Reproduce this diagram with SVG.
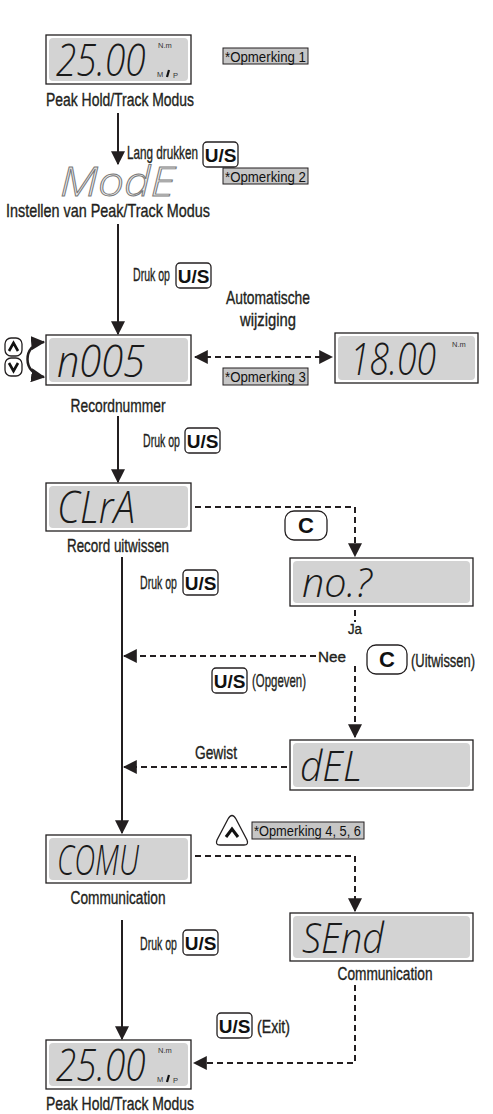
<svg xmlns="http://www.w3.org/2000/svg" width="493" height="1114" viewBox="0 0 493 1114">
<style>
.lbl{font-family:"Liberation Sans",Arial,sans-serif;font-size:18px;fill:#231f20;stroke:#231f20;stroke-width:0.35;}
.sm{font-size:15px;}
.mid{text-anchor:middle;}
.lcd{font-family:"Open Sans","Liberation Sans",sans-serif;font-weight:300;font-style:italic;font-size:44px;fill:#1a1a1a;}
.unit{font-family:"Liberation Sans",Arial,sans-serif;font-size:7.5px;fill:#333;}
.outer{fill:#fff;stroke:#231f20;stroke-width:1.3;}
.inner{fill:#d3d3d3;}
.key{fill:#fff;stroke:#231f20;stroke-width:1.3;}
.keyt{font-family:"Liberation Sans",Arial,sans-serif;font-weight:bold;font-size:19px;fill:#111;text-anchor:middle;}
.note{fill:#c6c6c6;stroke:#231f20;stroke-width:1;}
.notet{font-family:"Liberation Sans",Arial,sans-serif;font-size:15px;fill:#111;}
.solid{fill:none;stroke:#231f20;stroke-width:2;}
.dash{fill:none;stroke:#231f20;stroke-width:2;stroke-dasharray:6 4;}
.chev{fill:none;stroke:#111;stroke-width:2.6;stroke-linejoin:miter;}
</style>
<defs>
<marker id="ah" viewBox="0 0 12 12" refX="11" refY="6" markerWidth="14" markerHeight="14" markerUnits="userSpaceOnUse" orient="auto-start-reverse">
<path d="M0,0 L12,6 L0,12 z" fill="#231f20"/>
</marker>
</defs>

<g id="connectors">
<line class="solid" x1="118" y1="113" x2="118" y2="164" marker-end="url(#ah)"/>
<line class="solid" x1="118" y1="224" x2="118" y2="334" marker-end="url(#ah)"/>
<path class="solid" d="M44,342 C22,344 22,374 44,377" marker-start="url(#ah)" marker-end="url(#ah)" style="stroke-width:2.5"/>
<line class="dash" x1="195" y1="357" x2="332" y2="357" marker-start="url(#ah)" marker-end="url(#ah)"/>
<line class="solid" x1="118" y1="416" x2="118" y2="482" marker-end="url(#ah)"/>
<path class="dash" d="M195,507 H355 V556" marker-end="url(#ah)"/>
<line class="solid" x1="122" y1="557" x2="122" y2="833" marker-end="url(#ah)"/>
<line class="dash" x1="355" y1="610" x2="355" y2="622"/>
<line class="dash" x1="355" y1="666" x2="355" y2="737" marker-end="url(#ah)"/>
<line class="dash" x1="316" y1="656" x2="124" y2="656" marker-end="url(#ah)"/>
<line class="dash" x1="287" y1="767" x2="124" y2="767" marker-end="url(#ah)"/>
<path class="dash" d="M195,856 H355 V911" marker-end="url(#ah)"/>
<line class="solid" x1="122" y1="920" x2="122" y2="1039" marker-end="url(#ah)"/>
<path class="dash" d="M355,985 V1063 H194" marker-end="url(#ah)"/>
</g>

<g id="node-peak1">
<rect class="outer" x="46" y="35" width="145" height="49"/>
<rect class="inner" x="49" y="38" width="139" height="43" rx="4"/>
<text class="lcd" transform="translate(56 76) scale(0.8 1)" textLength="112" lengthAdjust="spacingAndGlyphs">25.00</text>
<text class="unit" x="158" y="48">N.m</text>
<text class="unit" x="157" y="77">M</text>
<line x1="167" y1="77" x2="169" y2="70" stroke="#111" stroke-width="2.2"/>
<text class="unit" x="173" y="78">P</text>
<text class="lbl mid" transform="translate(120 106) scale(0.771 1)" textLength="192" lengthAdjust="spacingAndGlyphs">Peak Hold/Track Modus</text>
</g>

<g id="note1">
<rect class="note" x="223" y="48" width="85" height="16"/>
<text class="notet" transform="translate(225 62) scale(0.883 1)" textLength="91.7" lengthAdjust="spacingAndGlyphs">*Opmerking 1</text>
</g>

<g id="key-lang">
<text class="lbl" transform="translate(127 159) scale(0.651 1)" textLength="109" lengthAdjust="spacingAndGlyphs">Lang drukken</text>
<rect class="key" x="203" y="142" width="35" height="25" rx="4"/>
<text class="keyt" x="220.5" y="162">U/S</text>
</g>

<g id="node-mode">
<text class="lcd" x="60" y="196" textLength="115" lengthAdjust="spacingAndGlyphs" style="font-size:40px;fill:#eeeeee;stroke:#777;stroke-width:0.9">ModE</text>
<text class="lbl mid" transform="translate(108 217) scale(0.78 1)" textLength="261.5" lengthAdjust="spacingAndGlyphs">Instellen van Peak/Track Modus</text>
</g>

<g id="note2">
<rect class="note" x="223" y="168" width="85" height="16"/>
<text class="notet" transform="translate(225 182) scale(0.883 1)" textLength="91.7" lengthAdjust="spacingAndGlyphs">*Opmerking 2</text>
</g>

<g id="key-druk1">
<text class="lbl" transform="translate(133 281) scale(0.587 1)" textLength="63" lengthAdjust="spacingAndGlyphs">Druk op</text>
<rect class="key" x="176" y="263" width="35" height="25" rx="4"/>
<text class="keyt" x="193.5" y="283">U/S</text>
</g>

<g id="updown">
<rect class="key" x="5" y="338" width="17" height="18" rx="6"/>
<polyline class="chev" points="9,351 13.5,343 18,351"/>
<rect class="key" x="5" y="358" width="17" height="18" rx="6"/>
<polyline class="chev" points="9,363 13.5,371 18,363"/>
</g>

<g id="node-record">
<rect class="outer" x="46" y="335" width="145" height="50"/>
<rect class="inner" x="49" y="338" width="139" height="44" rx="4"/>
<text class="lcd" transform="translate(57 377) scale(0.86 1)" textLength="102.3" lengthAdjust="spacingAndGlyphs">n005</text>
<text class="lbl mid" transform="translate(118 412) scale(0.714 1)" textLength="133" lengthAdjust="spacingAndGlyphs">Recordnummer</text>
</g>

<g id="auto-label">
<text class="lbl mid" transform="translate(268 304) scale(0.77 1)" textLength="109" lengthAdjust="spacingAndGlyphs">Automatische</text>
<text class="lbl mid" transform="translate(268 326) scale(0.823 1)" textLength="68" lengthAdjust="spacingAndGlyphs">wijziging</text>
</g>

<g id="note3">
<rect class="note" x="223" y="368" width="85" height="17"/>
<text class="notet" transform="translate(225 382) scale(0.883 1)" textLength="91.7" lengthAdjust="spacingAndGlyphs">*Opmerking 3</text>
</g>

<g id="node-1800">
<rect class="outer" x="335" y="333" width="143" height="50"/>
<rect class="inner" x="338" y="336" width="137" height="44" rx="4"/>
<text class="lcd" transform="translate(350 375) scale(0.77 1)" textLength="111.7" lengthAdjust="spacingAndGlyphs">18.00</text>
<text class="unit" x="452" y="347">N.m</text>
</g>

<g id="key-druk2">
<text class="lbl" transform="translate(143 447) scale(0.587 1)" textLength="63" lengthAdjust="spacingAndGlyphs">Druk op</text>
<rect class="key" x="185" y="428" width="35" height="25" rx="4"/>
<text class="keyt" x="202.5" y="448">U/S</text>
</g>

<g id="node-clra">
<rect class="outer" x="46" y="483" width="145" height="48"/>
<rect class="inner" x="49" y="486" width="139" height="42" rx="4"/>
<text class="lcd" transform="translate(57 523) scale(0.81 1)" textLength="96.3" lengthAdjust="spacingAndGlyphs">CLrA</text>
<text class="lbl mid" transform="translate(118 552) scale(0.745 1)" textLength="137" lengthAdjust="spacingAndGlyphs">Record uitwissen</text>
</g>

<g id="key-c1">
<rect class="key" x="285" y="511" width="42" height="29" rx="9"/>
<text class="keyt" x="306" y="533" style="font-size:22px">C</text>
</g>

<g id="key-druk3">
<text class="lbl" transform="translate(140 589) scale(0.587 1)" textLength="63" lengthAdjust="spacingAndGlyphs">Druk op</text>
<rect class="key" x="183" y="570" width="35" height="25" rx="4"/>
<text class="keyt" x="200.5" y="590">U/S</text>
</g>

<g id="node-no">
<rect class="outer" x="290" y="558" width="183" height="48"/>
<rect class="inner" x="293" y="561" width="177" height="42" rx="4"/>
<text class="lcd" transform="translate(302 597) scale(0.92 1)" textLength="76" lengthAdjust="spacingAndGlyphs" style="font-size:40px">no.?</text>
</g>

<g id="branch-labels">
<text class="lbl sm" transform="translate(348 634) scale(0.884 1)" textLength="15.8" lengthAdjust="spacingAndGlyphs">Ja</text>
<text class="lbl sm" x="318" y="662" textLength="28" lengthAdjust="spacingAndGlyphs">Nee</text>
<rect class="key" x="212" y="668" width="35" height="25" rx="4"/>
<text class="keyt" x="229.5" y="688">U/S</text>
<text class="lbl" transform="translate(252 687) scale(0.635 1)" textLength="85" lengthAdjust="spacingAndGlyphs">(Opgeven)</text>
<rect class="key" x="367" y="645" width="40" height="29" rx="9"/>
<text class="keyt" x="387" y="667" style="font-size:22px">C</text>
<text class="lbl" transform="translate(411 667) scale(0.72 1)" textLength="89" lengthAdjust="spacingAndGlyphs">(Uitwissen)</text>
</g>

<g id="node-del">
<rect class="outer" x="290" y="740" width="183" height="50"/>
<rect class="inner" x="293" y="743" width="177" height="44" rx="4"/>
<text class="lcd" transform="translate(300 781) scale(0.88 1)" textLength="70.5" lengthAdjust="spacingAndGlyphs" style="font-size:42px">dEL</text>
<text class="lbl" transform="translate(195 759) scale(0.764 1)" textLength="55" lengthAdjust="spacingAndGlyphs">Gewist</text>
</g>

<g id="node-comu">
<rect class="outer" x="46" y="835" width="145" height="48"/>
<rect class="inner" x="49" y="838" width="139" height="42" rx="4"/>
<text class="lcd" transform="translate(57 875) scale(0.64 1)" textLength="128" lengthAdjust="spacingAndGlyphs" style="font-size:42px">COMU</text>
<text class="lbl mid" transform="translate(118 904) scale(0.76 1)" textLength="125" lengthAdjust="spacingAndGlyphs">Communication</text>
</g>

<g id="key-up">
<path class="key" d="M220,845 Q215,845 217,840 L228,819 Q232,812 236,819 L247,840 Q249,845 244,845 Z"/>
<polyline class="chev" points="226,837 232,829 238,837" style="stroke-width:3"/>
</g>

<g id="note456">
<rect class="note" x="252" y="822" width="112" height="17"/>
<text class="notet" transform="translate(254 836) scale(0.856 1)" textLength="125" lengthAdjust="spacingAndGlyphs">*Opmerking 4, 5, 6</text>
</g>

<g id="node-send">
<rect class="outer" x="290" y="913" width="183" height="48"/>
<rect class="inner" x="293" y="916" width="177" height="42" rx="4"/>
<text class="lcd" transform="translate(302 953) scale(0.84 1)" textLength="97.6" lengthAdjust="spacingAndGlyphs" style="font-size:42px">SEnd</text>
<text class="lbl mid" transform="translate(385 980) scale(0.76 1)" textLength="125" lengthAdjust="spacingAndGlyphs">Communication</text>
</g>

<g id="key-druk4">
<text class="lbl" transform="translate(140 950) scale(0.587 1)" textLength="63" lengthAdjust="spacingAndGlyphs">Druk op</text>
<rect class="key" x="183" y="930" width="35" height="25" rx="4"/>
<text class="keyt" x="200.5" y="950">U/S</text>
</g>

<g id="key-exit">
<rect class="key" x="217" y="1013" width="35" height="25" rx="4"/>
<text class="keyt" x="234.5" y="1033">U/S</text>
<text class="lbl" transform="translate(257 1033) scale(0.786 1)" textLength="42" lengthAdjust="spacingAndGlyphs">(Exit)</text>
</g>

<g id="node-peak2">
<rect class="outer" x="46" y="1040" width="145" height="49"/>
<rect class="inner" x="49" y="1043" width="139" height="43" rx="4"/>
<text class="lcd" transform="translate(56 1081) scale(0.8 1)" textLength="112" lengthAdjust="spacingAndGlyphs">25.00</text>
<text class="unit" x="158" y="1053">N.m</text>
<text class="unit" x="157" y="1082">M</text>
<line x1="167" y1="1082" x2="169" y2="1075" stroke="#111" stroke-width="2.2"/>
<text class="unit" x="173" y="1083">P</text>
<text class="lbl mid" transform="translate(120 1110) scale(0.771 1)" textLength="192" lengthAdjust="spacingAndGlyphs">Peak Hold/Track Modus</text>
</g>
</svg>
